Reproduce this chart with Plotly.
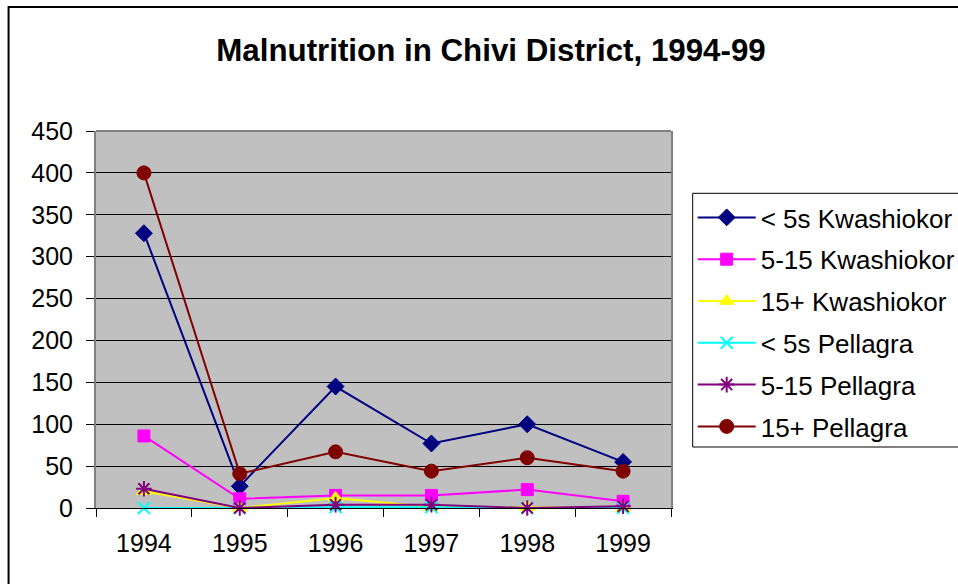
import plotly.graph_objects as go

years = ["1994", "1995", "1996", "1997", "1998", "1999"]
u5_kwash = [328, 26, 145, 77, 100, 55]
k5_15_kwash = [86, 11, 15, 15, 22, 8]
k15_kwash = [20, 0, 12, 1, 1, 0]
u5_pell = [0, 0, 1, 1, 0, 0]
p5_15_pell = [23, 0, 4, 4, 0, 2]
p15_pell = [400, 41, 67, 44, 60, 44]

series = [
    ("< 5s Kwashiokor", u5_kwash, "#000080", "diamond", 13, 1),
    ("5-15 Kwashiokor", k5_15_kwash, "#FF00FF", "square", 12, 1),
    ("15+ Kwashiokor", k15_kwash, "#FFFF00", "triangle-up", 13, 1),
    ("< 5s Pellagra", u5_pell, "#00FFFF", "x-thin-open", 12, 2),
    ("5-15 Pellagra", p5_15_pell, "#800080", "asterisk-open", 13, 2),
    ("15+ Pellagra", p15_pell, "#800000", "circle", 14, 1),
]

FONT = "Liberation Sans, Arial, sans-serif"
W, H = 958, 584
L = 95.5
T = 131
R = W - 671
B = H - 508
pw, ph = W - L - R, H - T - B


def px_x(x):
    return (x - L) / pw


def px_y(y):
    return (508 - y) / ph


fig = go.Figure()
for i, (name, vals, col, sym, sz, lw) in enumerate(series):
    fig.add_trace(go.Scatter(
        x=years, y=vals, name=name, mode="lines+markers",
        line=dict(color=col, width=2),
        marker=dict(symbol=sym, size=sz, color=col, line=dict(color=col, width=lw)),
        legendgroup=str(i), cliponaxis=False,
    ))

fig.update_layout(
    width=W, height=H,
    margin=dict(l=L, r=R, t=T, b=B, autoexpand=False),
    paper_bgcolor="white", plot_bgcolor="#C0C0C0",
    font=dict(family=FONT, size=25, color="black"),
    title=dict(text="<b>Malnutrition in Chivi District, 1994-99</b>",
               font=dict(family=FONT, size=31.3, color="black"),
               x=491 / W, xref="container", xanchor="center",
               y=1 - 50 / H, yref="container", yanchor="middle"),
    xaxis=dict(type="category", showgrid=False, showline=True, linecolor="black", linewidth=1,
               ticks="outside", tickson="boundaries", ticklen=8, tickcolor="black",
               tickfont=dict(size=25), ticklabelstandoff=13, zeroline=False, range=[-0.5, 5.5]),
    yaxis=dict(range=[0, 450], dtick=50, showgrid=True, gridcolor="black", gridwidth=1,
               showline=True, linecolor="#808080", linewidth=2, mirror=True,
               ticks="outside", ticklen=8, tickcolor="black", tickfont=dict(size=25),
               ticklabelstandoff=8, zeroline=False),
    legend=dict(x=px_x(692.7), xanchor="left", y=px_y(194), yanchor="top",
                borderwidth=0, bgcolor="rgba(0,0,0,0)",
                font=dict(size=26, family=FONT), tracegroupgap=5,
                traceorder="grouped", itemwidth=58),
    showlegend=True,
)

# plot area top border (gray)
fig.add_shape(type="line", xref="x domain", yref="y domain", x0=0, x1=1, y0=1, y1=1,
              line=dict(color="#808080", width=2))
# outer chart border (cropped at right/bottom)
fig.add_shape(type="rect", xref="paper", yref="paper",
              x0=px_x(8), x1=2.0, y0=-1.0, y1=px_y(7),
              line=dict(color="black", width=2), layer="below")
# legend frame (cropped at right edge)
fig.add_shape(type="rect", xref="paper", yref="paper",
              x0=px_x(692.7), x1=2.0, y0=px_y(447), y1=px_y(193.3),
              line=dict(color="black", width=1), fillcolor="white", layer="below")

fig.write_html("out.html", config={"displayModeBar": False},
               post_script="document.body.style.margin='0';document.documentElement.style.overflow='hidden';document.body.style.overflow='hidden';")
